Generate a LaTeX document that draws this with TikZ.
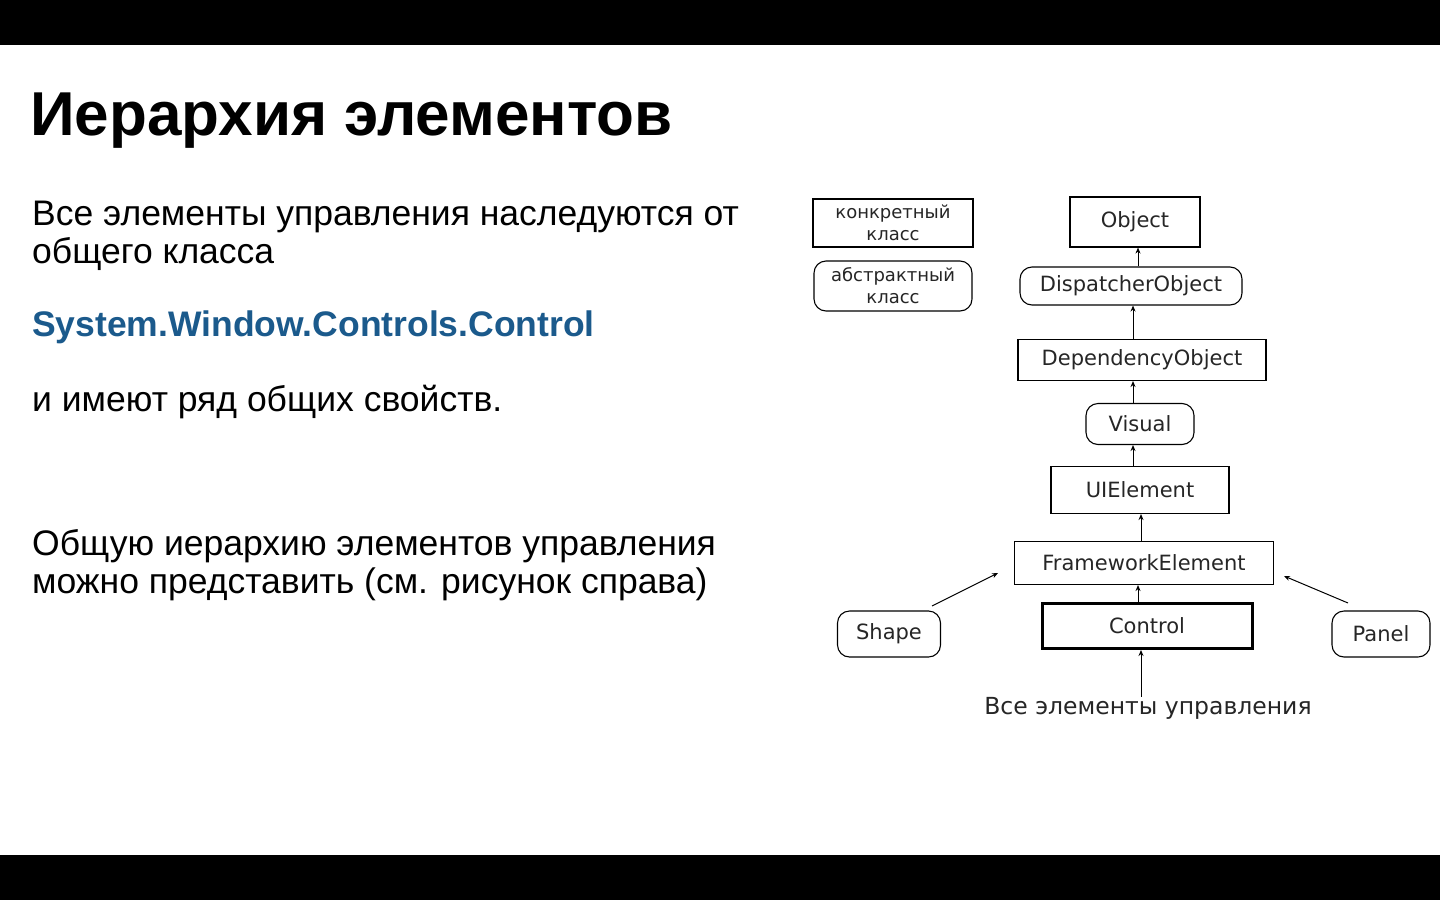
\documentclass[tikz,border=0pt]{standalone}
\usepackage{fontspec}
\setmainfont{Liberation Sans}
\newfontfamily\djvfont{DejaVu Sans}
\usetikzlibrary{arrows.meta}
\definecolor{blu}{HTML}{1B5A8C}
\tikzset{
 x=1pt,y=-1pt,
 cls/.style={draw,line width=1.1pt,inner sep=0pt,font=\djvfont\fontsize{21}{23}\selectfont,text=black!85},
 abs/.style={cls,rounded corners=12pt},
 arr/.style={-{Stealth[length=6pt,width=5pt]},line width=1pt},
 body/.style={anchor=north west,align=left,inner sep=0pt,font=\fontsize{35.5}{38}\selectfont}
}
\begin{document}
\begin{tikzpicture}
\useasboundingbox (0,0) rectangle (1440,900);
\fill[white] (0,0) rectangle (1440,900);
\fill[black] (0,0) rectangle (1440,45);
\fill[black] (0,855) rectangle (1440,900);
\node[anchor=base west,inner sep=0pt,font=\bfseries\fontsize{62}{70}\selectfont] (title) at (30,135) {Иерархия элементов};
\node[body] (t1) at (32,201) {Все элементы управления наследуются от\\общего класса};
\node[body,font=\bfseries\fontsize{35.5}{38}\selectfont,text=blu] (t2) at (32,311) {System.Window.Controls.Control};
\node[body] (t3) at (32,385) {и имеют ряд общих свойств.};
\node[body] (t4) at (32,529) {Общую иерархию элементов управления\\можно представить (см. рисунок справа)};

\node[cls,minimum width=160,minimum height=48,align=center,font=\djvfont\fontsize{18}{22}\selectfont] (conc) at (893,223) {конкретный\\класс};
\node[abs,minimum width=158,minimum height=50,align=center,font=\djvfont\fontsize{18}{22}\selectfont] (abst) at (893,286) {абстрактный\\класс};
\node[cls,minimum width=130,minimum height=50] (obj) at (1135,222) {Object};
\node[abs,minimum width=222,minimum height=38] (disp) at (1131,286) {DispatcherObject};
\node[cls,minimum width=248,minimum height=41] (dep) at (1142,360) {DependencyObject};
\node[abs,minimum width=108,minimum height=41] (vis) at (1140,424) {Visual};
\node[cls,minimum width=178,minimum height=47] (uie) at (1140,490) {UIElement};
\node[cls,minimum width=259,minimum height=43] (fwe) at (1144,563) {FrameworkElement};
\node[cls,line width=3pt,minimum width=210,minimum height=45] (ctl) at (1147,626) {Control};
\node[abs,minimum width=103,minimum height=46] (shp) at (889,634) {Shape};
\node[abs,minimum width=98,minimum height=46] (pnl) at (1381,634) {Panel};
\node[inner sep=0pt,font=\djvfont\fontsize{23.5}{25}\selectfont,text=black!85] (all) at (1148,708) {Все элементы управления};

\draw[arr] (disp.north -| 1138,0) -- (obj.south -| 1138,0);
\draw[arr] (dep.north -| 1133,0) -- (disp.south -| 1133,0);
\draw[arr] (vis.north -| 1133,0) -- (dep.south -| 1133,0);
\draw[arr] (uie.north -| 1133,0) -- (vis.south -| 1133,0);
\draw[arr] (fwe.north -| 1141,0) -- (uie.south -| 1141,0);
\draw[arr] (ctl.north -| 1138,0) -- (fwe.south -| 1138,0);
\coordinate (a1) at (932,606); \coordinate (a2) at (998,573);
\coordinate (b1) at (1348,603); \coordinate (b2) at (1284,576);
\draw[arr] (a1) -- (a2);
\draw[arr] (b1) -- (b2);
\draw[arr] (all.north -| 1141,0) -- (ctl.south -| 1141,0);
\end{tikzpicture}
\end{document}
